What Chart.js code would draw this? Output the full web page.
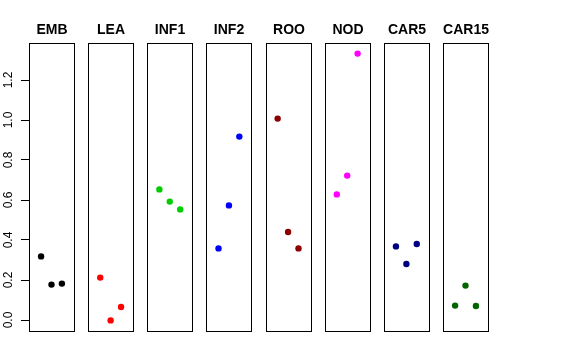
<!DOCTYPE html>
<html>
<head>
<meta charset="utf-8">
<script src="https://cdn.jsdelivr.net/npm/chart.js@4/dist/chart.umd.min.js"></script>
<style>
  html, body { margin: 0; padding: 0; background: #ffffff; }
  #wrap { position: relative; width: 576px; height: 360px; }
</style>
</head>
<body>
<div id="wrap"><canvas id="c" width="576" height="360"></canvas></div>
<script>
// ---- data ----
const categories = ['EMB', 'LEA', 'INF1', 'INF2', 'ROO', 'NOD', 'CAR5', 'CAR15'];
const colors = ['#000000', '#FF0000', '#00CD00', '#0000FF', '#8B0000', '#FF00FF', '#000080', '#006400'];
const valuesEMB   = [0.318, 0.177, 0.182];
const valuesLEA   = [0.212, -0.002, 0.065];
const valuesINF1  = [0.653, 0.592, 0.553];
const valuesINF2  = [0.358, 0.573, 0.917];
const valuesROO   = [1.007, 0.440, 0.358];
const valuesNOD   = [0.628, 0.722, 1.332];
const valuesCAR5  = [0.368, 0.280, 0.380];
const valuesCAR15 = [0.072, 0.172, 0.070];
const seriesValues = [valuesEMB, valuesLEA, valuesINF1, valuesINF2, valuesROO, valuesNOD, valuesCAR5, valuesCAR15];
const yTicks = [0.0, 0.2, 0.4, 0.6, 0.8, 1.0, 1.2];
const replicates = [1, 2, 3];

// ---- panel geometry in data units ----
const PANEL_STEP = 5.68;     // distance between panel origins (x units)
const PANEL_MIN = -0.16;     // panel x-limits (R's 4% extension of [0,4])
const PANEL_MAX = 4.16;
const Y_MIN = -0.055, Y_MAX = 1.385;

const datasets = categories.map((cat, i) => ({
  label: cat,
  data: seriesValues[i].map((v, j) => ({ x: i * PANEL_STEP + replicates[j], y: v })),
  backgroundColor: colors[i],
  borderColor: colors[i],
  pointRadius: 3.2,
  pointBorderWidth: 0,
  pointHoverRadius: 3.2,
  showLine: false
}));

const panelPlugin = {
  id: 'panels',
  afterDatasetsDraw(chart) {
    const ctx = chart.ctx;
    const xs = chart.scales.x;
    const area = chart.chartArea;
    ctx.save();
    ctx.strokeStyle = '#000000';
    ctx.lineWidth = 1;
    ctx.fillStyle = '#000000';
    ctx.font = 'bold 14px "Liberation Sans", Arial, sans-serif';
    ctx.textAlign = 'center';
    ctx.textBaseline = 'alphabetic';
    categories.forEach((cat, i) => {
      const l = Math.round(xs.getPixelForValue(i * PANEL_STEP + PANEL_MIN)) + 0.5;
      const r = Math.round(xs.getPixelForValue(i * PANEL_STEP + PANEL_MAX)) + 0.5;
      const t = Math.round(area.top) + 0.5;
      const b = Math.round(area.bottom) + 0.5;
      ctx.strokeRect(l, t, r - l, b - t);
      ctx.fillText(cat, (l + r) / 2, 34);
    });
    ctx.restore();
  }
};

new Chart(document.getElementById('c'), {
  type: 'scatter',
  data: { datasets },
  options: {
    responsive: false,
    animation: false,
    devicePixelRatio: 1,
    layout: { padding: { top: 43, bottom: 29, left: 0, right: 88 } },
    plugins: { legend: { display: false }, tooltip: { enabled: false }, title: { display: false } },
    scales: {
      x: {
        type: 'linear',
        display: false,
        min: PANEL_MIN,
        max: (categories.length - 1) * PANEL_STEP + PANEL_MAX
      },
      y: {
        type: 'linear',
        min: Y_MIN,
        max: Y_MAX,
        afterFit(scale) { scale.width = 29; },
        afterBuildTicks(scale) { scale.ticks = yTicks.map(v => ({ value: v })); },
        grid: {
          drawOnChartArea: false,
          drawTicks: true,
          tickLength: 8,
          color: '#000000',
          lineWidth: 1
        },
        border: { display: true, color: '#000000', width: 1 },
        ticks: {
          minRotation: 90,
          maxRotation: 90,
          crossAlign: 'center',
          padding: 4,
          color: '#000000',
          font: { family: '"Liberation Sans", Arial, sans-serif', size: 12 },
          callback: (v) => Number(v).toFixed(1)
        }
      }
    }
  },
  plugins: [panelPlugin]
});
</script>
</body>
</html>
